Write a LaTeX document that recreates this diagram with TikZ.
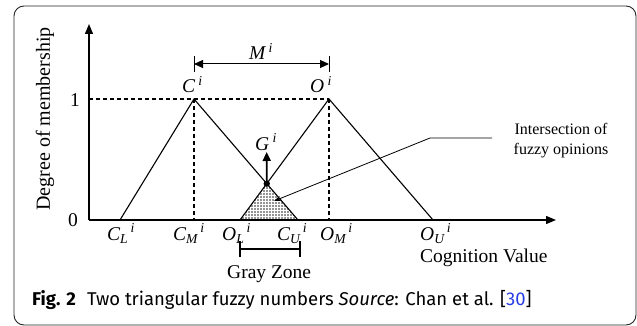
\documentclass[tikz,border=0pt]{standalone}
\usepackage{fontspec}
\setmainfont{Liberation Serif}
\newfontfamily\capfont{Fira Sans}
\usetikzlibrary{arrows.meta,patterns,intersections}
\definecolor{linkblue}{RGB}{40,60,230}
\pgfdeclarepatternformonly{bigdots}{\pgfqpoint{-1pt}{-1pt}}{\pgfqpoint{1pt}{1pt}}{\pgfqpoint{3pt}{3pt}}{%
  \pgfpathcircle{\pgfqpoint{0pt}{0pt}}{0.8pt}\pgfusepath{fill}}
\begin{document}
\begin{tikzpicture}[x=1pt,y=-1pt,
  lbl/.style={inner sep=0pt, anchor=base west, font=\fontsize{19.5}{22}\selectfont},
  axisline/.style={line width=1.3pt, -{Triangle[length=10pt,width=8pt]}},
  tri/.style={line width=1.1pt},
  dsh/.style={line width=1.3pt, dash pattern=on 4pt off 3pt},
  thin/.style={line width=1pt},
]
\useasboundingbox (0,0) rectangle (637,326);
\draw[line width=0.9pt, rounded corners=10pt, color=black!85] (14,6) rectangle (636,325);

% key points
\coordinate (Or) at (89,220);
\coordinate (Ytop) at (89,24);
\coordinate (Xend) at (556,220);
\coordinate (Y1) at (89,99);
\coordinate (CL) at (120,220);
\coordinate (CP) at (194,99);
\coordinate (CMb) at (194,220);
\coordinate (CU) at (298,220);
\coordinate (OL) at (240,220);
\coordinate (OP) at (329,99);
\coordinate (OMb) at (329,220);
\coordinate (OU) at (433,220);
\coordinate (X) at (intersection of CP--CU and OL--OP);

% shaded intersection
\fill[pattern=bigdots, pattern color=black!85] (OL) -- (X) -- (CU) -- cycle;

% dashed guides
\draw[dsh] (Y1) -- (OP);
\draw[dsh] (CP) -- (CMb);
\draw[dsh] (OP) -- (OMb);

% triangles
\draw[tri] (CL) -- (CP) -- (CU);
\draw[tri] (OL) -- (OP) -- (OU);

% axes
\draw[axisline] (Or) -- (Ytop);
\draw[axisline] (Or) -- (Xend);

% G arrow
\coordinate (Gt) at (266.7,152);
\draw[line width=1.8pt, -{Triangle[length=9pt,width=8pt]}] (X) -- (Gt);
\fill (X) circle (3.2pt);

% M dimension
\coordinate (Ma) at (194,64);
\coordinate (Mb) at (329,64);
\draw[thin, {Triangle[length=9pt,width=8pt]}-{Triangle[length=9pt,width=8pt]}] (Ma) -- (Mb);
\draw[thin] (Ma) ++(0,-8) -- ++(0,16);
\draw[thin] (Mb) ++(0,-8) -- ++(0,16);

% gray zone bracket
\coordinate (Za) at (240,249);
\coordinate (Zb) at (300,249);
\draw[line width=1.2pt] (Za) -- (Zb);
\draw[line width=1.2pt] (Za) ++(0,-8) -- ++(0,16);
\draw[line width=1.2pt] (Zb) ++(0,-8) -- ++(0,16);

% leader
\coordinate (Le) at (492,138);
\coordinate (Lk) at (430,138);
\coordinate (Lt) at (274,201);
\draw[line width=0.8pt, -{Stealth[length=7pt,width=5pt]}] (Le) -- (Lk) -- (Lt);
\node[align=center, inner sep=0pt, font=\fontsize{16}{20}\selectfont] (inter) at (561,141) {Intersection of\\fuzzy opinions};

% labels
\node[lbl] (lCi) at (182,93) {\itshape C\,\textsuperscript{i}};
\node[lbl] (lOi) at (310,93) {\itshape O\,\textsuperscript{i}};
\node[lbl] (lMi) at (249,60) {\itshape M\,\textsuperscript{i}};
\node[lbl] (lGi) at (255,150) {\itshape G\,\textsuperscript{i}};
\node[lbl] (l1) at (70,107) {1};
\node[lbl] (l0) at (68,226) {0};
\node[lbl] (lCL) at (107,240) {\itshape C\textsubscript{L}\textsuperscript{\,i}};
\node[lbl] (lCM) at (173,240) {\itshape C\textsubscript{M}\textsuperscript{\,i}};
\node[lbl] (lOL) at (222,240) {\itshape O\textsubscript{L}\textsuperscript{\,i}};
\node[lbl] (lCU) at (277,240) {\itshape C\textsubscript{U}\textsuperscript{\,i}};
\node[lbl] (lOM) at (320,240) {\itshape O\textsubscript{M}\textsuperscript{\,i}};
\node[lbl] (lOU) at (420,240) {\itshape O\textsubscript{U}\textsuperscript{\,i}};
\node[lbl] (gz) at (227,278) {Gray Zone};
\node[lbl] (cv) at (420,262) {Cognition Value};
\node[rotate=90, inner sep=0pt, font=\fontsize{20}{22}\selectfont] (dm) at (45,119) {Degree of membership};

% caption
\node[anchor=base west, inner sep=0pt, font=\capfont\fontsize{18.5}{20}\selectfont] (cap) at (32,305)
  {\textbf{Fig. 2}\hspace{0.6em}Two triangular fuzzy numbers \textit{Source}: Chan et al. [\textcolor{linkblue}{30}]};
\end{tikzpicture}
\end{document}
